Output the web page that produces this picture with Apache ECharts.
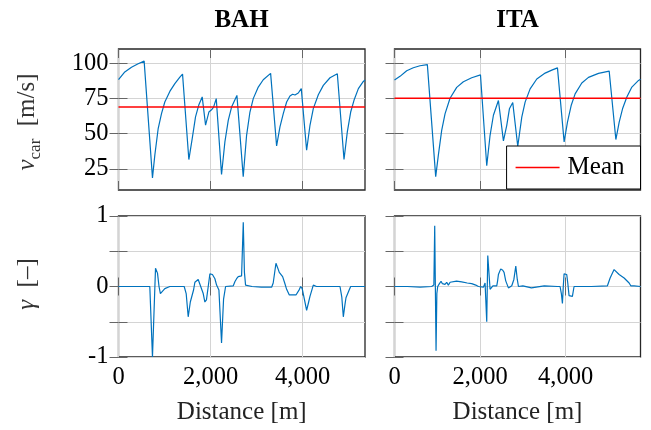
<!DOCTYPE html>
<html><head><meta charset="utf-8">
<script src="https://cdn.jsdelivr.net/npm/echarts@6/dist/echarts.min.js"></script>
<style>html,body{margin:0;padding:0;background:#fff}#c{width:651px;height:430px}</style>
</head><body><div id="c"></div>
<script>
// ---- data ----
const trackNames = ['BAH', 'ITA'];
const trackLength = [5354, 5750];
const distanceTicks = [0, 2000, 4000];
const velocityTicks = [25, 50, 75, 100];
const gammaTicks = [-1, 0, 1];
const meanVelocity = [68.8, 75];

const bahVelocity = [
 [0,88.2],[137,93.7],[282,97],[427,99.5],[557,101.4],
 [738,18.6],
 [789,34.7],[862,53.6],[934,64.2],[1006,72.4],[1115,79.9],[1224,85.4],[1333,90.1],[1391,92.2],
 [1528,31.6],
 [1601,46.5],[1673,61.8],[1746,70.5],[1818,76],
 [1891,56],
 [1963,65.3],[2021,66.9],[2065,68.8],[2123,74.8],
 [2238,21],
 [2311,44.1],[2384,59.4],[2456,68.8],[2572,77.1],
 [2709,19.5],
 [2782,48.8],[2855,65.3],[2927,74.8],[3036,83],[3144,88.2],[3304,92.7],
 [3434,41.3],
 [3507,54.7],[3579,64.2],[3652,72.4],[3724,76.7],[3782,77.9],[3833,77.4],[3870,77.0],[3905,78.8],[3970,81.9],
 [4086,38.2],
 [4159,55.9],[4231,67.7],[4340,77.6],[4449,84.2],[4594,89.6],[4753,92.4],
 [4898,31.6],
 [4970,51.2],[5043,65.3],[5115,73.6],[5210,81.9],[5318,87],[5354,88]
];
const itaVelocity = [
 [0,88],[129,90.6],[285,94.6],[440,96.7],[596,98.1],[768,98.9],
 [963,19.5],
 [1025,34.7],[1103,52.3],[1181,64],[1298,75.1],[1454,82.8],[1610,86.8],[1805,89.6],[2010,91.6],
 [2156,27.2],
 [2234,48.8],[2312,63],[2429,73.5],
 [2546,44.8],
 [2624,55.9],[2686,67.6],[2764,72],
 [2881,41],
 [2975,61.7],[3053,72.3],[3170,81.7],[3326,88.7],[3521,92.9],[3677,95],[3809,96.6],
 [3965,44.1],
 [4043,58.2],[4129,69.9],[4222,78.2],[4378,85.9],[4534,89.9],[4768,92.7],[5018,94.3],
 [5174,45.8],
 [5252,58.2],[5330,67.6],[5431,75.9],[5548,83],[5704,87.7],[5750,88.6]
];
const bahGamma = [
 [0,0],[680,0],[738,-1.0],[804,0.26],[847,0.19],[880,0.0],[910,-0.1],[1006,-0.03],[1115,0],[1427,0],
 [1470,-0.1],[1514,-0.43],[1560,-0.22],[1601,-0.22],[1630,-0.05],[1659,0.06],[1731,0.1],[1768,0.09],
 [1840,-0.1],[1876,-0.22],[1910,-0.19],[1949,0.0],[1985,0.18],[2040,0.17],[2094,0.11],[2130,0.02],
 [2181,-0.05],[2238,-0.8],[2282,-0.18],[2326,0],[2493,0.01],[2530,0.07],[2565,0.11],[2601,0.14],
 [2673,0.15],[2710,0.91],[2735,0.2],[2760,0.02],[2900,0.0],[3100,-0.01],[3326,-0.01],[3360,0.05],
 [3420,0.33],[3460,0.26],[3492,0.2],[3565,0.14],[3610,0.05],[3652,-0.04],[3710,-0.12],[3855,-0.12],
 [3930,-0.04],[3956,0],[3990,-0.03],[4050,-0.22],[4086,-0.34],[4130,-0.22],[4159,-0.14],[4231,0.02],
 [4300,0],[4811,0],[4850,-0.15],[4883,-0.43],[4920,-0.25],[4941,-0.16],[4970,-0.15],[5010,-0.05],
 [5043,0],[5354,0]
];
const itaGamma = [
 [0,0],[300,0.0],[600,-0.01],[869,0],[920,0.02],[940,0.86],[955,0.0],[971,-0.91],[990,-0.1],[1010,0],
 [1050,0.04],[1088,0.075],[1120,0.04],[1142,0.045],[1180,0.03],[1220,0.06],[1259,0.02],[1300,0.06],
 [1337,0.075],[1450,0.075],[1571,0.065],[1700,0.05],[1805,0.04],[1900,0.02],[1961,0],[2078,-0.01],
 [2117,0.05],[2156,-0.5],[2180,0.44],[2234,-0.04],[2300,0.01],[2390,0.01],[2410,0.08],[2429,0.17],
 [2483,0.25],[2530,0.23],[2561,0.2],[2600,0.08],[2663,-0.02],[2741,0.01],[2790,0.1],[2835,0.29],
 [2870,0.1],[2897,0],[3000,0.01],[3200,-0.02],[3500,0.01],[3808,0],[3870,0],[3900,-0.1],[3925,-0.24],
 [3945,0.0],[3964,0.18],[4026,0.17],[4050,0.05],[4080,-0.13],[4158,-0.14],[4197,0],[4600,0],
 [4977,0.01],[5040,0.12],[5133,0.24],[5250,0.17],[5367,0.12],[5484,0.05],[5523,0.01],[5600,0.01],[5750,0]
];

// ---- style ----
const FONT = 'Liberation Serif';
const BLUE = '#0072bd';
const RED = '#ff0000';
const TICK = {color:'#666', width:1};
const GRIDC = {color:'#d4d4d4', width:1};
const grids = [
 {left:118.5, top:49, width:246.5, height:141},
 {left:394.5, top:49, width:246, height:141},
 {left:118.5, top:216, width:246.5, height:141},
 {left:394.5, top:216, width:246, height:141}
];
function fmt(v){ return String(v).replace(/\B(?=(\d{3})+(?!\d))/g, ','); }

const xAxis = [], yAxis = [];
for (let g = 0; g < 4; g++) {
  const max = trackLength[g % 2];
  const bottom = g >= 2;
  xAxis.push({type:'value', gridIndex:g, min:0, max:max, interval:2000, position:'bottom',
    axisLine:{show:false},
    axisTick:{show:true, inside:true, length:9, customValues:distanceTicks, lineStyle:TICK},
    axisLabel:{show:bottom, customValues:distanceTicks, margin:8, fontFamily:FONT, fontSize:24.5, color:'#000', formatter:fmt},
    splitLine:{show:true, lineStyle:GRIDC},
    name: bottom ? 'Distance [m]' : '', nameLocation:'middle', nameGap:43,
    nameTextStyle:{fontFamily:FONT, fontSize:25, color:'#222'}
  });
  const isV = g < 2;
  yAxis.push(isV ? {type:'value', gridIndex:g, min:10, max:110, position:'left',
    axisLine:{show:false},
    axisTick:{show:true, inside:true, length:9, customValues:velocityTicks, lineStyle:TICK},
    axisLabel:{show:g % 2 === 0, customValues:velocityTicks, margin:10, fontFamily:FONT, fontSize:24.5, color:'#000'},
    splitLine:{show:true, lineStyle:GRIDC}
  } : {type:'value', gridIndex:g, min:-1, max:1, interval:0.5, position:'left',
    axisLine:{show:false},
    axisTick:{show:true, inside:true, length:9, lineStyle:TICK},
    axisLabel:{show:g % 2 === 0, customValues:gammaTicks, margin:10, fontFamily:FONT, fontSize:24.5, color:'#000'},
    splitLine:{show:true, lineStyle:GRIDC}
  });
}
// mirrored ticks (top / right)
for (let g = 0; g < 4; g++) {
  const max = trackLength[g % 2];
  xAxis.push({type:'value', gridIndex:g, min:0, max:max, interval:2000, position:'top',
    axisLine:{show:false}, axisLabel:{show:false}, splitLine:{show:false},
    axisTick:{show:true, inside:true, length:9, customValues:distanceTicks, lineStyle:TICK}});
  if (g < 2) {
    yAxis.push({type:'value', gridIndex:g, min:10, max:110, position:'right',
      axisLine:{show:false}, axisLabel:{show:false}, splitLine:{show:false},
      axisTick:{show:true, inside:true, length:9, customValues:velocityTicks, lineStyle:TICK}});
  } else {
    yAxis.push({type:'value', gridIndex:g, min:-1, max:1, interval:0.5, position:'right',
      axisLine:{show:false}, axisLabel:{show:false}, splitLine:{show:false},
      axisTick:{show:true, inside:true, length:9, lineStyle:TICK}});
  }
}

function lineSeries(name, data, xi, yi, color, width, z){
  return {type:'line', name:name, data:data, xAxisIndex:xi, yAxisIndex:yi, symbol:'none', showSymbol:false,
    lineStyle:{color:color, width:width}, itemStyle:{color:color}, z:z, animation:false, silent:true};
}
const series = [
  lineSeries('BAH v', bahVelocity, 0, 0, BLUE, 1.2, 2),
  lineSeries('Mean', [[0, meanVelocity[0]], [trackLength[0], meanVelocity[0]]], 0, 0, RED, 1.5, 3),
  lineSeries('ITA v', itaVelocity, 1, 1, BLUE, 1.2, 2),
  lineSeries('Mean', [[0, meanVelocity[1]], [trackLength[1], meanVelocity[1]]], 1, 1, RED, 1.5, 3),
  lineSeries('BAH g', bahGamma, 2, 2, BLUE, 1.2, 2),
  lineSeries('ITA g', itaGamma, 3, 3, BLUE, 1.2, 2)
];

const option = {
  animation:false,
  backgroundColor:'#fff',
  grid: grids.map(g => Object.assign({show:true, borderColor:'#262626', borderWidth:1.3, backgroundColor:'transparent'}, g)),
  xAxis, yAxis, series,
  legend:{data:[{name:'Mean', icon:'rect'}], right:10.5, top:146, orient:'horizontal', backgroundColor:'#fff',
    borderColor:'#000', borderWidth:1, borderRadius:0, padding:[9,16,9,9], itemWidth:44, itemHeight:1.6, itemGap:5,
    itemStyle:{color:RED, borderWidth:0},
    textStyle:{fontFamily:FONT, fontSize:25, color:'#000', padding:[0,0,0,3]}, selectedMode:false, z:10},
  graphic:[
    {type:'text', x:241.5, y:21, style:{text:trackNames[0], fontFamily:FONT, fontWeight:'bold', fontSize:25, fill:'#000', align:'center', verticalAlign:'middle'}},
    {type:'text', x:517.5, y:21, style:{text:trackNames[1], fontFamily:FONT, fontWeight:'bold', fontSize:25, fill:'#000', align:'center', verticalAlign:'middle'}},
    {type:'text', x:27, y:122, rotation:Math.PI/2, style:{text:'{v|v}{s|car}{n|  [m/s]}', align:'center', verticalAlign:'middle',
      rich:{v:{fontFamily:FONT, fontStyle:'italic', fontSize:25, fill:'#333', lineHeight:34, verticalAlign:'middle'},
            s:{fontFamily:FONT, fontSize:17, fill:'#333', lineHeight:34, verticalAlign:'bottom'},
            n:{fontFamily:FONT, fontSize:25, fill:'#333', lineHeight:34, verticalAlign:'middle'}}}},
    {type:'text', x:27, y:284, rotation:Math.PI/2, style:{text:'{v|γ}{n|  [–]}', align:'center', verticalAlign:'middle',
      rich:{v:{fontFamily:FONT, fontStyle:'italic', fontSize:25, fill:'#333', lineHeight:34, verticalAlign:'middle'},
            n:{fontFamily:FONT, fontSize:25, fill:'#333', lineHeight:34, verticalAlign:'middle'}}}}
  ]
};
const chart = echarts.init(document.getElementById('c'), null, {renderer:'canvas'});
chart.setOption(option);
</script></body></html>
